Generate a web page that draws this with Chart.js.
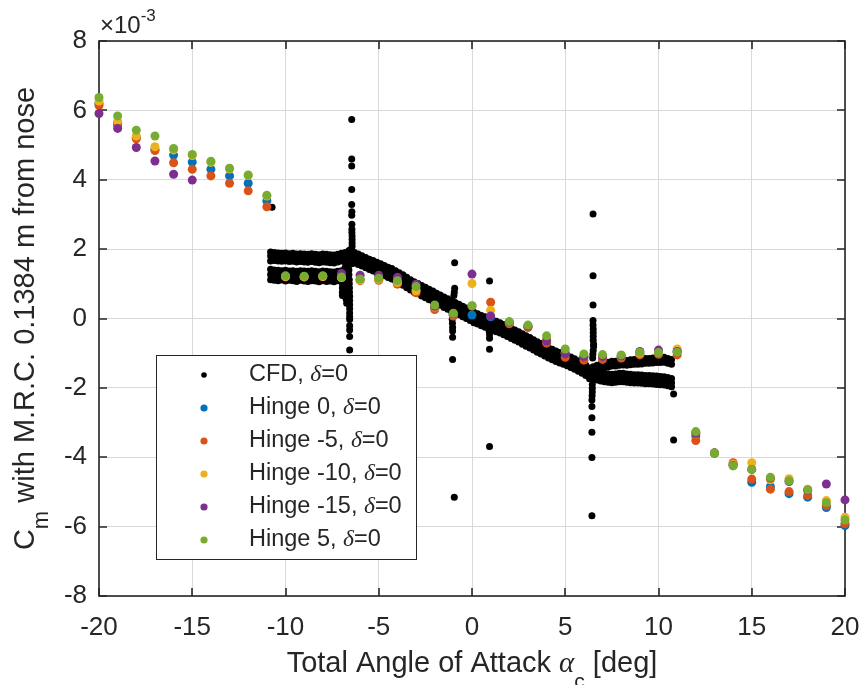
<!DOCTYPE html>
<html>
<head>
<meta charset="utf-8">
<script src="https://cdn.jsdelivr.net/npm/chart.js@4.4.1/dist/chart.umd.min.js"></script>
<style>
  html, body { margin:0; padding:0; background:#fff; }
  #wrap { width:862px; height:685px; }
</style>
</head>
<body>
<div id="wrap"><canvas id="chart" width="862" height="685"></canvas></div>
<script>
// ── Data (Cm values in units of 1e-3) ───────────────────────
const HINGE_X = [-20,-19,-18,-17,-16,-15,-14,-13,-12,-11,-10,-9,-8,-7,-6,-5,-4,-3,-2,-1,0,1,2,3,4,5,6,7,8,9,10,11,12,13,14,15,16,17,18,19,20];
const HINGE_0   = [6.20,5.62,5.22,4.88,4.71,4.51,4.30,4.11,3.90,3.39,1.22,1.21,1.22,1.19,1.12,1.14,1.05,0.82,0.32,0.11,0.10,0.05,-0.12,-0.23,-0.62,-1.00,-1.10,-1.12,-1.10,-1.02,-1.00,-0.95,-3.39,-3.88,-4.20,-4.72,-4.85,-5.05,-5.15,-5.45,-5.97];
const HINGE_M5  = [6.14,5.58,5.18,4.84,4.49,4.30,4.11,3.90,3.68,3.22,1.20,1.20,1.21,1.18,1.09,1.10,0.99,0.74,0.26,0.07,0.36,0.47,-0.15,-0.26,-0.71,-1.12,-1.20,-1.18,-1.14,-1.05,-1.03,-1.05,-3.52,-3.88,-4.16,-4.63,-4.92,-4.99,-5.10,-5.40,-5.91];
const HINGE_M10 = [6.27,5.69,5.26,4.95,4.86,4.70,4.50,4.31,4.12,3.53,1.21,1.20,1.21,1.18,1.11,1.13,1.04,0.80,0.33,0.12,1.01,0.24,-0.12,-0.22,-0.60,-0.97,-1.08,-1.10,-1.08,-1.00,-0.96,-0.88,-3.30,-3.88,-4.20,-4.16,-4.65,-4.62,-4.92,-5.25,-5.73];
const HINGE_M15 = [5.91,5.48,4.93,4.54,4.16,3.99,null,null,null,null,null,null,null,1.30,1.25,1.25,1.19,0.99,0.35,0.13,1.28,0.07,-0.11,-0.22,-0.65,-1.02,-1.10,-1.10,-1.08,-0.95,-0.91,-0.95,-3.30,-3.88,-4.24,-4.35,-4.60,-4.70,-4.95,-4.77,-5.23];
const HINGE_P5  = [6.37,5.84,5.43,5.26,4.90,4.73,4.53,4.33,4.14,3.55,1.23,1.22,1.23,1.20,1.14,1.16,1.09,0.92,0.39,0.15,0.37,null,-0.09,-0.19,-0.50,-0.88,-1.02,-1.04,-1.05,-0.97,-0.98,-0.97,-3.26,-3.88,-4.25,-4.35,-4.58,-4.68,-4.94,-5.31,-5.81];

// CFD, left double band (-10.8 .. -7.0)
const CFD_LEFT_X = [-10.8,-10.6,-10.4,-10.2,-10.0,-9.8,-9.6,-9.4,-9.2,-9.0,-8.8,-8.6,-8.4,-8.2,-8.0,-7.8,-7.6,-7.4,-7.2,-7.0];
const CFD_LEFT_UP_TOP = [1.92,1.90,1.89,1.88,1.89,1.87,1.88,1.86,1.87,1.86,1.85,1.87,1.85,1.84,1.86,1.85,1.84,1.83,1.85,1.88];
const CFD_LEFT_UP_MID = [1.80,1.79,1.78,1.77,1.78,1.76,1.77,1.75,1.76,1.75,1.74,1.76,1.74,1.73,1.75,1.74,1.73,1.72,1.74,1.77];
const CFD_LEFT_UP_BOT = [1.66,1.67,1.66,1.65,1.66,1.64,1.65,1.63,1.64,1.63,1.62,1.64,1.62,1.61,1.63,1.62,1.61,1.60,1.63,1.66];
const CFD_LEFT_LO_TOP = [1.42,1.40,1.39,1.38,1.39,1.37,1.38,1.36,1.38,1.37,1.36,1.38,1.36,1.35,1.37,1.36,1.35,1.34,1.36,1.38];
const CFD_LEFT_LO_MID = [1.27,1.26,1.25,1.24,1.25,1.23,1.24,1.22,1.24,1.23,1.22,1.24,1.22,1.21,1.23,1.22,1.21,1.20,1.22,1.24];
const CFD_LEFT_LO_BOT = [1.12,1.10,1.09,1.11,1.08,1.10,1.09,1.07,1.10,1.08,1.07,1.09,1.08,1.06,1.09,1.07,1.08,1.06,1.09,1.10];

// CFD, descending band (-6.3 .. 6.1)
const CFD_MID_X = [-6.3,-6.1,-5.9,-5.7,-5.5,-5.3,-5.1,-4.9,-4.7,-4.5,-4.3,-4.1,-3.9,-3.7,-3.5,-3.3,-3.1,-2.9,-2.7,-2.5,-2.3,-2.1,-1.9,-1.7,-1.5,-1.3,-1.1,-0.9,-0.7,-0.5,-0.3,-0.1,0.1,0.3,0.5,0.7,0.9,1.1,1.3,1.5,1.7,1.9,2.1,2.3,2.5,2.7,2.9,3.1,3.3,3.5,3.7,3.9,4.1,4.3,4.5,4.7,4.9,5.1,5.3,5.5,5.7,5.9,6.1];
const CFD_MID_TOP = [1.90,1.86,1.81,1.76,1.71,1.67,1.62,1.58,1.53,1.48,1.44,1.38,1.32,1.26,1.19,1.12,1.06,1.01,0.95,0.90,0.84,0.79,0.73,0.68,0.62,0.57,0.51,0.46,0.41,0.35,0.30,0.24,0.18,0.14,0.09,0.05,0.00,-0.04,-0.08,-0.12,-0.17,-0.22,-0.28,-0.33,-0.38,-0.44,-0.50,-0.55,-0.61,-0.67,-0.72,-0.78,-0.84,-0.89,-0.94,-0.98,-1.02,-1.06,-1.11,-1.16,-1.22,-1.28,-1.34];
const CFD_MID_MID = [1.75,1.71,1.66,1.61,1.56,1.52,1.47,1.43,1.38,1.33,1.29,1.23,1.17,1.11,1.04,0.97,0.91,0.86,0.80,0.75,0.69,0.64,0.58,0.53,0.47,0.42,0.36,0.31,0.26,0.20,0.15,0.09,0.03,-0.01,-0.06,-0.10,-0.15,-0.19,-0.23,-0.27,-0.32,-0.37,-0.43,-0.48,-0.53,-0.59,-0.65,-0.70,-0.76,-0.82,-0.87,-0.93,-0.99,-1.04,-1.09,-1.13,-1.17,-1.21,-1.26,-1.31,-1.37,-1.43,-1.49];
const CFD_MID_BOT = [1.60,1.56,1.51,1.46,1.41,1.37,1.32,1.28,1.23,1.18,1.14,1.08,1.02,0.96,0.89,0.82,0.76,0.71,0.65,0.60,0.54,0.49,0.43,0.38,0.32,0.27,0.21,0.16,0.11,0.05,0.00,-0.06,-0.12,-0.16,-0.21,-0.25,-0.30,-0.34,-0.38,-0.42,-0.47,-0.52,-0.58,-0.63,-0.68,-0.74,-0.80,-0.85,-0.91,-0.97,-1.02,-1.08,-1.14,-1.19,-1.24,-1.28,-1.32,-1.36,-1.41,-1.46,-1.52,-1.58,-1.64];

// CFD, right double band (6.3 .. 10.7)
const CFD_RIGHT_X = [6.3,6.5,6.7,6.9,7.1,7.3,7.5,7.7,7.9,8.1,8.3,8.5,8.7,8.9,9.1,9.3,9.5,9.7,9.9,10.1,10.3,10.5,10.7];
const CFD_RIGHT_UP_TOP = [-1.43,-1.39,-1.35,-1.31,-1.28,-1.26,-1.23,-1.23,-1.21,-1.20,-1.21,-1.19,-1.18,-1.18,-1.17,-1.15,-1.15,-1.14,-1.13,-1.13,-1.12,-1.15,-1.18];
const CFD_RIGHT_UP_BOT = [-1.57,-1.53,-1.49,-1.45,-1.42,-1.40,-1.37,-1.37,-1.35,-1.34,-1.35,-1.33,-1.32,-1.32,-1.31,-1.29,-1.29,-1.28,-1.27,-1.27,-1.26,-1.29,-1.32];
const CFD_RIGHT_LO_TOP = [-1.50,-1.52,-1.53,-1.56,-1.58,-1.60,-1.61,-1.60,-1.58,-1.58,-1.60,-1.61,-1.62,-1.62,-1.63,-1.64,-1.64,-1.65,-1.66,-1.67,-1.68,-1.70,-1.73];
const CFD_RIGHT_LO_MID = [-1.62,-1.64,-1.65,-1.68,-1.70,-1.72,-1.73,-1.72,-1.70,-1.70,-1.72,-1.73,-1.74,-1.74,-1.75,-1.76,-1.76,-1.77,-1.78,-1.79,-1.80,-1.82,-1.85];
const CFD_RIGHT_LO_BOT = [-1.74,-1.76,-1.77,-1.80,-1.82,-1.84,-1.85,-1.84,-1.82,-1.82,-1.84,-1.85,-1.86,-1.86,-1.87,-1.88,-1.88,-1.89,-1.90,-1.91,-1.92,-1.94,-1.97];

// CFD, spikes and isolated samples [x, y]
const CFD_SPIKES = [
  [-6.43,2.08],[-6.43,2.18],[-6.43,2.28],[-6.43,2.38],[-6.44,2.48],[-6.44,2.57],[-6.44,2.72],[-6.45,2.98],[-6.44,3.08],[-6.45,3.29],[-6.45,3.72],[-6.45,4.40],[-6.45,4.60],[-6.45,5.74],
  [-6.8,1.90],[-6.8,1.76],[-6.8,1.62],[-6.8,1.47],[-6.8,1.33],[-6.8,1.18],[-6.6,1.96],[-6.6,1.82],[-6.6,1.68],[-6.6,1.54],[-6.6,1.40],[-6.6,1.26],[-6.45,2.00],[-6.45,1.86],[-6.45,1.72],[-6.45,1.58],
  [-6.95,1.00],[-6.95,0.88],[-6.95,0.76],[-6.95,0.66],[-6.75,1.04],[-6.75,0.92],[-6.75,0.80],[-6.75,0.68],[-6.75,0.56],[-6.72,0.44],
  [-6.58,1.12],[-6.58,1.00],[-6.57,0.88],[-6.57,0.76],[-6.56,0.64],[-6.56,0.52],[-6.56,0.40],[-6.56,0.28],[-6.56,0.16],[-6.56,0.05],[-6.56,-0.03],[-6.56,-0.21],[-6.56,-0.33],[-6.56,-0.52],[-6.56,-0.91],
  [-0.93,1.61],[-0.93,0.87],[-0.95,0.76],[-0.97,0.66],[-1.06,0.10],[-1.06,-0.02],[-1.05,-0.14],[-1.04,-0.26],[-1.04,-0.36],[-1.04,-0.54],[-1.04,-1.18],[-0.95,-5.15],
  [0.94,1.08],[0.92,-0.36],[0.94,-0.46],[0.94,-0.57],[0.94,-0.89],[0.94,-3.69],
  [6.49,3.01],[6.49,1.23],[6.49,0.39],[6.49,-0.06],[6.49,-0.19],[6.50,-0.30],[6.50,-0.41],[6.50,-0.52],[6.50,-0.63],[6.52,-0.74],[6.52,-0.81],[6.50,-0.92],[6.48,-1.03],[6.47,-1.14],
  [6.45,-1.90],[6.45,-2.01],[6.45,-2.12],[6.44,-2.23],[6.43,-2.35],[6.43,-2.54],[6.43,-2.86],[6.43,-3.28],[6.43,-4.01],[6.43,-5.69],
  [-10.72,3.21],[10.81,-2.18],[10.81,-3.50]
];

const SERIES_NAMES  = ['CFD, ', 'Hinge 0, ', 'Hinge -5, ', 'Hinge -10, ', 'Hinge -15, ', 'Hinge 5, '];
const SERIES_COLORS = ['#000000', '#0072BD', '#D95319', '#EDB120', '#7E2F8E', '#77AC30'];
const X_TICK_STEP = 5, Y_TICK_STEP = 2;

// ── Style ───────────────────────────────────────────────────
const SANS  = 'Arial, "Liberation Sans", Helvetica, sans-serif';
const SERIF = '"Liberation Serif", "DejaVu Serif", "Times New Roman", serif';
const INK   = '#262626';

function pts(xs, ys) { return xs.map((x, i) => ({ x, y: ys[i] })).filter(p => p.y !== null && p.y !== undefined); }

const cfdPoints = [
  ...pts(CFD_LEFT_X, CFD_LEFT_UP_TOP), ...pts(CFD_LEFT_X, CFD_LEFT_UP_MID), ...pts(CFD_LEFT_X, CFD_LEFT_UP_BOT),
  ...pts(CFD_LEFT_X, CFD_LEFT_LO_TOP), ...pts(CFD_LEFT_X, CFD_LEFT_LO_MID), ...pts(CFD_LEFT_X, CFD_LEFT_LO_BOT),
  ...pts(CFD_MID_X, CFD_MID_TOP), ...pts(CFD_MID_X, CFD_MID_MID), ...pts(CFD_MID_X, CFD_MID_BOT),
  ...pts(CFD_RIGHT_X, CFD_RIGHT_UP_TOP), ...pts(CFD_RIGHT_X, CFD_RIGHT_UP_BOT),
  ...pts(CFD_RIGHT_X, CFD_RIGHT_LO_TOP), ...pts(CFD_RIGHT_X, CFD_RIGHT_LO_MID), ...pts(CFD_RIGHT_X, CFD_RIGHT_LO_BOT),
  ...CFD_SPIKES.map(([x, y]) => ({ x, y }))
];

const hingeSeries = [HINGE_0, HINGE_M5, HINGE_M10, HINGE_M15, HINGE_P5];

// datasets: lower "order" is painted on top (Hinge 5 last in MATLAB => on top)
const datasets = [
  { label: SERIES_NAMES[0], data: cfdPoints, backgroundColor: SERIES_COLORS[0], pointRadius: 3.5, order: 10 },
  ...hingeSeries.map((ys, i) => ({
    label: SERIES_NAMES[i + 1], data: pts(HINGE_X, ys), backgroundColor: SERIES_COLORS[i + 1], pointRadius: 4.5, order: 9 - i
  }))
].map(d => ({ ...d, borderWidth: 0, pointBorderWidth: 0, pointHoverRadius: d.pointRadius, showLine: false, clip: false }));

// ── Mixed-font text helpers ─────────────────────────────────
function runsWidth(ctx, runs) {
  return runs.reduce((w, r) => { ctx.font = r.font; return w + ctx.measureText(r.text).width; }, 0);
}
function drawRuns(ctx, x, y, runs) {
  let cx = x;
  runs.forEach(r => { ctx.font = r.font; ctx.fillText(r.text, cx, y + (r.dy || 0)); cx += ctx.measureText(r.text).width; });
}

// ── Plugin: MATLAB-like box, inward ticks, labels, legend ───
const matlabFrame = {
  id: 'matlabFrame',
  beforeDatasetsDraw(chart) {
    const { ctx, chartArea: a, scales: { x, y } } = chart;
    ctx.save();
    ctx.strokeStyle = INK;
    ctx.lineWidth = 1.6;
    ctx.strokeRect(a.left, a.top, a.right - a.left, a.bottom - a.top);
    ctx.beginPath();
    x.ticks.forEach(t => {
      const px = Math.round(x.getPixelForValue(t.value));
      ctx.moveTo(px, a.bottom); ctx.lineTo(px, a.bottom - 8);
      ctx.moveTo(px, a.top);    ctx.lineTo(px, a.top + 8);
    });
    y.ticks.forEach(t => {
      const py = Math.round(y.getPixelForValue(t.value));
      ctx.moveTo(a.left, py);  ctx.lineTo(a.left + 8, py);
      ctx.moveTo(a.right, py); ctx.lineTo(a.right - 8, py);
    });
    ctx.stroke();
    ctx.restore();
  },
  afterDraw(chart) {
    const { ctx, chartArea: a } = chart;
    ctx.save();
    ctx.fillStyle = INK;
    ctx.textBaseline = 'alphabetic';

    // exponent
    drawRuns(ctx, a.left + 1, 33, [
      { text: '\u00d710', font: `24px ${SANS}` },
      { text: '-3', font: `17px ${SANS}`, dy: -12 }
    ]);

    // x label
    const xRuns = [
      { text: 'Total Angle of Attack ', font: `29px ${SANS}` },
      { text: '\u03b1', font: `italic 29px ${SERIF}` },
      { text: 'c', font: `21px ${SANS}`, dy: 16 },
      { text: ' [deg]', font: `29px ${SANS}` }
    ];
    drawRuns(ctx, (a.left + a.right) / 2 - runsWidth(ctx, xRuns) / 2, 672, xRuns);

    // y label
    const yRuns = [
      { text: 'C', font: `29px ${SANS}` },
      { text: 'm', font: `22px ${SANS}`, dy: 14 },
      { text: ' with M.R.C. 0.1384 m from nose', font: `29px ${SANS}` }
    ];
    ctx.save();
    ctx.translate(34, (a.top + a.bottom) / 2);
    ctx.rotate(-Math.PI / 2);
    drawRuns(ctx, -runsWidth(ctx, yRuns) / 2, 0, yRuns);
    ctx.restore();

    // legend
    const L = { x: 156, y: 355, w: 260, h: 204 };
    ctx.fillStyle = '#ffffff';
    ctx.fillRect(L.x, L.y, L.w, L.h);
    ctx.strokeStyle = INK;
    ctx.lineWidth = 1;
    ctx.strokeRect(L.x + 0.5, L.y + 0.5, L.w, L.h);
    ctx.textBaseline = 'middle';
    SERIES_NAMES.forEach((name, i) => {
      const cy = 375 + i * 33;
      ctx.fillStyle = SERIES_COLORS[i];
      ctx.beginPath();
      ctx.arc(204, cy, i === 0 ? 2.8 : 3.6, 0, Math.PI * 2);
      ctx.fill();
      ctx.fillStyle = INK;
      drawRuns(ctx, 249, cy, [
        { text: name, font: `23.5px ${SANS}` },
        { text: '\u03b4', font: `italic 23.5px ${SERIF}` },
        { text: '=0', font: `23.5px ${SANS}` }
      ]);
    });
    ctx.restore();
  }
};

// ── Chart ───────────────────────────────────────────────────
new Chart(document.getElementById('chart'), {
  type: 'scatter',
  data: { datasets },
  options: {
    responsive: false,
    animation: false,
    devicePixelRatio: 1,
    layout: { padding: { left: 0, top: 41, right: 17, bottom: 0 } },
    plugins: { legend: { display: false }, tooltip: { enabled: false } },
    events: [],
    scales: {
      x: {
        type: 'linear', min: -20, max: 20,
        afterFit: s => { s.height = 89; s.paddingLeft = 0; s.paddingRight = 0; },
        ticks: { stepSize: X_TICK_STEP, color: INK, padding: 16, font: { family: SANS, size: 26 } },
        grid: { color: '#d9d9d9', lineWidth: 1, drawTicks: false },
        border: { display: false }
      },
      y: {
        type: 'linear', min: -8, max: 8,
        afterFit: s => { s.width = 99; s.paddingTop = 0; s.paddingBottom = 0; },
        ticks: { stepSize: Y_TICK_STEP, color: INK, padding: 12, font: { family: SANS, size: 26 } },
        grid: { color: '#d9d9d9', lineWidth: 1, drawTicks: false },
        border: { display: false }
      }
    }
  },
  plugins: [matlabFrame]
});
</script>
</body>
</html>
